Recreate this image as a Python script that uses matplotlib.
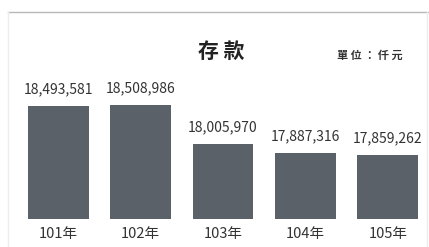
import matplotlib.pyplot as plt
from matplotlib.lines import Line2D

plt.rcParams['font.family'] = ['Noto Sans CJK TC', 'DejaVu Sans']

years = ['101年', '102年', '103年', '104年', '105年']
deposits = [18493581, 18508986, 18005970, 17887316, 17859262]

W, H = 429, 247
fig = plt.figure(figsize=(W / 100, H / 100), dpi=100)

# axes spans the bar area: x 17..429 px, y 12..219 px (from top)
ax = fig.add_axes([17 / W, (H - 219) / H, (429 - 17) / W, (219 - 12) / H])

bar_color = '#5b6168'
x = range(len(years))
ax.bar(x, deposits, width=0.74, color=bar_color)
ax.set_xlim(-0.5, len(years) - 0.5)
ax.set_ylim(17030000, 19711000)

for i, v in enumerate(deposits):
    ax.annotate(f'{v:,}', (i, v), xytext=(0, 7), textcoords='offset points',
                ha='center', va='bottom', fontsize=10, color='#333333')

ax.set_xticks(list(x))
ax.set_xticklabels(years, fontsize=10.5, color='#333333')
ax.tick_params(axis='x', length=0, pad=6)
ax.set_yticks([])
for s in ax.spines.values():
    s.set_visible(False)

# outer frame
fig.add_artist(Line2D([8 / W, 1], [1 - 12 / H, 1 - 12 / H], color='#b8b8b8', lw=1))
fig.add_artist(Line2D([8 / W, 8 / W], [0, 1 - 12 / H], color='#ececec', lw=1))
fig.add_artist(Line2D([427 / W, 427 / W], [0, 1 - 12 / H], color='#ececec', lw=1))

fig.text(221 / W, 1 - 51 / H, '存 款', ha='center', va='center',
         fontsize=15, fontweight='bold', color='#222222')
fig.text(370 / W, 1 - 55 / H, '單 位 ： 仟 元', ha='center', va='center',
         fontsize=8, fontweight='bold', color='#333333')

fig.savefig('out.png', dpi=100)
